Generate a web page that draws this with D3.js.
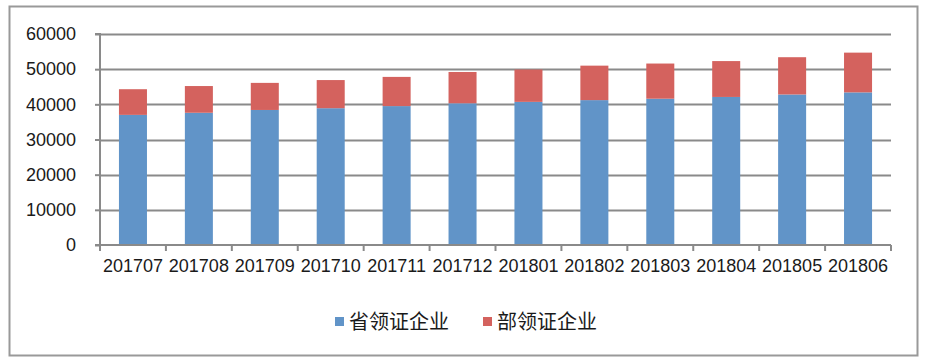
<!DOCTYPE html>
<html lang="zh">
<head>
<meta charset="utf-8">
<script src="https://cdn.jsdelivr.net/npm/d3@7"></script>
<style>
  body { margin: 0; background: #fff; }
  text { font-family: "Liberation Sans", Arial, sans-serif; fill: #1a1a1a; }
  .legend text { font-family: "Noto Sans CJK SC", sans-serif; }
</style>
</head>
<body>
<div id="chart"></div>
<script>
// months on the x axis
var months = ["201707", "201708", "201709", "201710", "201711", "201712",
              "201801", "201802", "201803", "201804", "201805", "201806"];
// province-licensed firms (blue, bottom)
var provincial = [37000, 37600, 38400, 38900, 39500, 40300,
                  40700, 41200, 41600, 42100, 42800, 43400];
// ministry-licensed firms (red, stacked on top)
var ministry = [7300, 7600, 7700, 8000, 8300, 8900,
                9200, 9800, 10000, 10200, 10600, 11300];
var seriesNames = ["省领证企业", "部领证企业"];
var yTicks = [0, 10000, 20000, 30000, 40000, 50000, 60000];

var width = 927, height = 364;
var margin = {top: 34, right: 36, bottom: 119, left: 100};
var colors = ["#6194c8", "#d4625e"];

var svg = d3.select("#chart").append("svg")
    .attr("width", width)
    .attr("height", height);

// outer frame
svg.append("rect")
    .attr("x", 9.5).attr("y", 6.5)
    .attr("width", 908).attr("height", 349)
    .attr("fill", "#fff")
    .attr("stroke", "#999")
    .attr("stroke-width", 2);

var x = d3.scaleBand()
    .domain(months)
    .range([margin.left, width - margin.right])
    .paddingInner(0.575)
    .paddingOuter(0.2875);

var y = d3.scaleLinear()
    .domain([0, 60000])
    .range([height - margin.bottom, margin.top]);

// gridlines
svg.append("g")
    .selectAll("line")
    .data(yTicks.slice(1))
    .join("line")
    .attr("x1", margin.left)
    .attr("x2", width - margin.right)
    .attr("y1", d => Math.round(y(d)) + 0.5)
    .attr("y2", d => Math.round(y(d)) + 0.5)
    .attr("stroke", "#8a8a8a")
    .attr("stroke-width", 2);

// stacked bars
var rows = months.map((m, i) => ({month: m, p: provincial[i], m2: ministry[i]}));
var stack = d3.stack().keys(["p", "m2"])(rows);

svg.append("g")
    .selectAll("g")
    .data(stack)
    .join("g")
    .attr("fill", (d, i) => colors[i])
    .selectAll("rect")
    .data(d => d)
    .join("rect")
    .attr("x", d => x(d.data.month))
    .attr("width", x.bandwidth())
    .attr("y", d => y(d[1]))
    .attr("height", d => y(d[0]) - y(d[1]));

// y axis
var yAxis = svg.append("g")
    .attr("transform", `translate(${margin.left},0)`)
    .call(d3.axisLeft(y).tickValues(yTicks).tickSize(5).tickPadding(19).tickFormat(d3.format("d")));
yAxis.selectAll("line, path").attr("stroke", "#8a8a8a").attr("stroke-width", 2);
yAxis.select(".domain").attr("d", `M-5,${y(60000)}H0V${y(0)}H-5`);
yAxis.selectAll("text").attr("font-size", 18).attr("fill", "#1a1a1a");

// x axis with ticks at category boundaries
var step = (width - margin.right - margin.left) / months.length;
var xAxis = svg.append("g")
    .attr("transform", `translate(0,${y(0)})`);
xAxis.append("line")
    .attr("x1", margin.left).attr("x2", width - margin.right)
    .attr("stroke", "#8a8a8a").attr("stroke-width", 2);
xAxis.selectAll(".tk")
    .data(d3.range(months.length + 1))
    .join("line")
    .attr("class", "tk")
    .attr("x1", i => margin.left + i * step)
    .attr("x2", i => margin.left + i * step)
    .attr("y1", 0).attr("y2", 6)
    .attr("stroke", "#8a8a8a").attr("stroke-width", 2);
xAxis.selectAll(".lbl")
    .data(months)
    .join("text")
    .attr("class", "lbl")
    .attr("x", d => x(d) + x.bandwidth() / 2)
    .attr("y", 27)
    .attr("text-anchor", "middle")
    .attr("font-size", 18)
    .text(d => d);

// legend
var legend = svg.append("g").attr("class", "legend");
var legendX = [335, 483];
seriesNames.forEach((name, i) => {
    var g = legend.append("g").attr("transform", `translate(${legendX[i]},322)`);
    g.append("rect")
        .attr("x", 0).attr("y", -5)
        .attr("width", 9).attr("height", 9)
        .attr("fill", colors[i]);
    g.append("text")
        .attr("x", 14)
        .attr("y", 7)
        .attr("font-size", 20)
        .text(name);
});
</script>
</body>
</html>
